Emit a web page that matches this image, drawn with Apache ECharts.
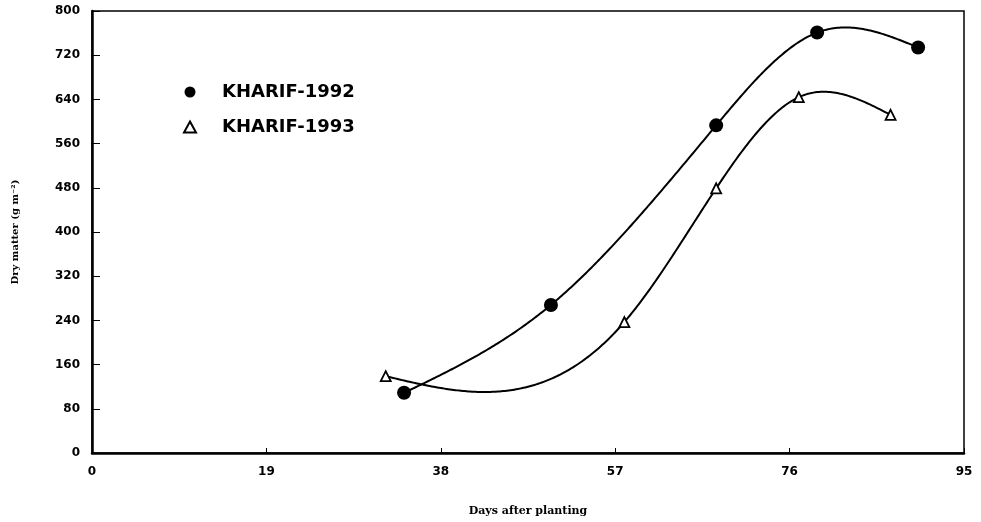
<!DOCTYPE html>
<html>
<head>
<meta charset="utf-8">
<script src="https://cdn.jsdelivr.net/npm/echarts@6/dist/echarts.min.js"></script>
<style>html,body{margin:0;padding:0;background:#fff}#c{width:981px;height:522px}</style>
</head>
<body>
<div id="c"></div>
<script>
var xTicks = [0, 19, 38, 57, 76, 95];
var yTicks = [0, 80, 160, 240, 320, 400, 480, 560, 640, 720, 800];
var days1992 = [34, 50, 68, 79, 90];
var dm1992 = [109, 268, 593, 761, 734];
var days1993 = [32, 58, 68, 77, 87];
var dm1993 = [139, 237, 479, 644, 612];
var seriesNames = ['KHARIF-1992', 'KHARIF-1993'];

function spline(xs, ys) {
  var n = xs.length, h = [], M = new Array(n).fill(0);
  for (var i = 0; i < n - 1; i++) h.push(xs[i + 1] - xs[i]);
  var m = n - 2, A = [], B = [], C = [], R = [];
  for (var i = 1; i < n - 1; i++) {
    A.push(h[i - 1]); B.push(2 * (h[i - 1] + h[i])); C.push(h[i]);
    R.push(6 * ((ys[i + 1] - ys[i]) / h[i] - (ys[i] - ys[i - 1]) / h[i - 1]));
  }
  for (var i = 1; i < m; i++) {
    var w = A[i] / B[i - 1];
    B[i] -= w * C[i - 1]; R[i] -= w * R[i - 1];
  }
  var sol = new Array(m);
  for (var i = m - 1; i >= 0; i--) sol[i] = (R[i] - (i < m - 1 ? C[i] * sol[i + 1] : 0)) / B[i];
  for (var i = 0; i < m; i++) M[i + 1] = sol[i];
  return function (x) {
    var k = 0;
    while (k < n - 2 && x > xs[k + 1]) k++;
    var t1 = xs[k + 1] - x, t0 = x - xs[k], hk = h[k];
    return M[k] * t1 * t1 * t1 / (6 * hk) + M[k + 1] * t0 * t0 * t0 / (6 * hk) +
      (ys[k] / hk - M[k] * hk / 6) * t1 + (ys[k + 1] / hk - M[k + 1] * hk / 6) * t0;
  };
}

function curveSeries(xs, ys) {
  var f = spline(xs, ys);
  return {
    type: 'custom',
    silent: true,
    data: [[xs[0], ys[0]]],
    z: 1,
    renderItem: function (params, api) {
      var pts = [];
      for (var x = xs[0]; x <= xs[xs.length - 1] + 1e-9; x += 0.2) pts.push(api.coord([x, f(x)]));
      pts.push(api.coord([xs[xs.length - 1], ys[ys.length - 1]]));
      return { type: 'polyline', shape: { points: pts, smooth: 0 }, style: { stroke: '#000', lineWidth: 2, fill: null } };
    }
  };
}

function pairs(xs, ys) { return xs.map(function (x, i) { return [x, ys[i]]; }); }

var chart = echarts.init(document.getElementById('c'));
var labelFont = { color: '#000', fontWeight: 'bold', fontSize: 12, fontFamily: 'DejaVu Sans' };
chart.setOption({
  animation: false,
  backgroundColor: '#fff',
  grid: { left: 92, right: 17, top: 11, bottom: 63, show: true, borderColor: '#000', borderWidth: 1.5, backgroundColor: 'transparent' },
  legend: {
    orient: 'vertical', left: 178, top: 78,
    itemWidth: 12, itemHeight: 11, itemGap: 17,
    data: seriesNames,
    textStyle: { color: '#000', fontWeight: 'bold', fontSize: 18, fontFamily: 'DejaVu Sans', padding: [0, 0, 0, 21] }
  },
  xAxis: {
    type: 'value', min: 0, max: 95, interval: 19,
    name: 'Days after planting', nameLocation: 'middle', nameGap: 53,
    nameTextStyle: { color: '#000', fontWeight: 'bold', fontSize: 11, fontFamily: 'DejaVu Serif' },
    axisLine: { show: true, lineStyle: { color: '#000', width: 2.5 } },
    axisTick: { show: true, inside: true, length: 5, lineStyle: { color: '#000', width: 1 } },
    axisLabel: Object.assign({ margin: 13, formatter: function (v) { return xTicks.indexOf(v) >= 0 ? String(v) : ''; } }, labelFont),
    splitLine: { show: false }
  },
  yAxis: {
    type: 'value', min: 0, max: 800, interval: 80,
    name: 'Dry matter (g m\u207B\u00B2)', nameLocation: 'middle', nameGap: 72, nameRotate: 90,
    nameTextStyle: { color: '#000', fontWeight: 'bold', fontSize: 10, fontFamily: 'DejaVu Serif' },
    axisLine: { show: true, lineStyle: { color: '#000', width: 2.5 } },
    axisTick: { show: true, inside: true, length: 8, lineStyle: { color: '#000', width: 1 } },
    axisLabel: Object.assign({ margin: 12, formatter: function (v) { return yTicks.indexOf(v) >= 0 ? String(v) : ''; } }, labelFont),
    splitLine: { show: false }
  },
  series: [
    curveSeries(days1992, dm1992),
    curveSeries(days1993, dm1993),
    {
      name: seriesNames[0], type: 'scatter', z: 3,
      data: pairs(days1992, dm1992),
      symbol: 'circle', symbolSize: 14,
      itemStyle: { color: '#000', borderColor: '#000', borderWidth: 0, opacity: 1 }
    },
    {
      name: seriesNames[1], type: 'scatter', z: 3,
      data: pairs(days1993, dm1993),
      symbol: 'triangle', symbolSize: 10,
      itemStyle: { color: '#fff', borderColor: '#000', borderWidth: 1.8, opacity: 1 }
    }
  ]
});
</script>
</body>
</html>
